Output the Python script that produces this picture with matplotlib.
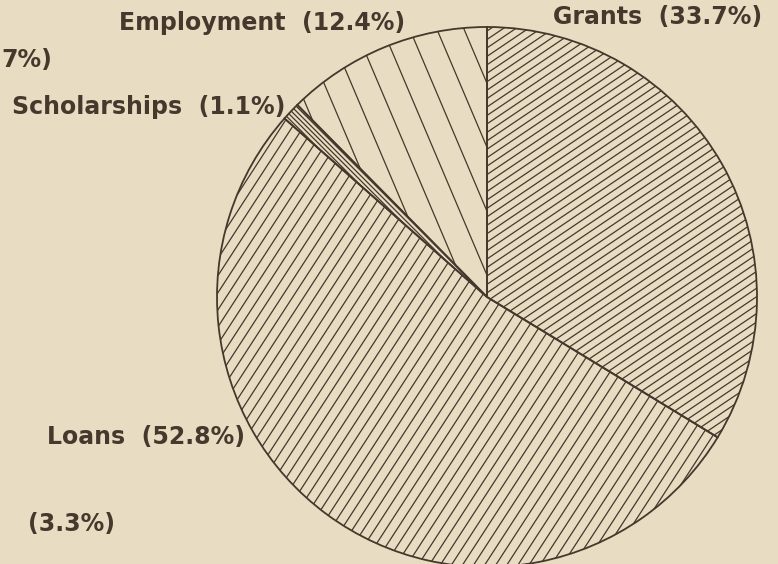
import numpy as np
import matplotlib.pyplot as plt
from matplotlib.collections import LineCollection

# slices, clockwise from 12 o'clock
labels = ["Grants", "Loans", "Scholarships", "Employment"]
shares = [33.7, 52.8, 1.1, 12.4]

# hatch direction (deg) and gap (px) per slice
hatch_angle = [34, 57, 135, 113]
hatch_gap = [7.0, 9.3, 3.5, 25.0]

bg = "#e8dcc2"
ink = "#45382c"

fig = plt.figure(figsize=(7.78, 5.64), dpi=100, facecolor=bg)
ax = fig.add_axes([0, 0, 1, 1])
ax.set_facecolor(bg)

cx, cy, r = 487, 267, 270
wedges, _ = ax.pie(shares, startangle=90, counterclock=False,
                   center=(cx, cy), radius=r, frame=True,
                   wedgeprops=dict(facecolor="none", edgecolor=ink, linewidth=1.3))

for w, ang, gap in zip(wedges, hatch_angle, hatch_gap):
    a = np.radians(ang)
    d = np.array([np.cos(a), np.sin(a)])
    n = np.array([-np.sin(a), np.cos(a)])
    segs = []
    for o in np.arange(-r * 1.05, r * 1.05, gap):
        p = np.array([cx, cy]) + n * o
        segs.append([p - d * r * 1.1, p + d * r * 1.1])
    lc = LineCollection(segs, colors=ink, linewidths=0.9)
    ax.add_collection(lc)
    lc.set_clip_path(w)

ax.set_xlim(0, 778)
ax.set_ylim(0, 564)
ax.set_aspect("equal")
ax.axis("off")

H = 564
font = dict(family="DejaVu Sans", fontsize=17, fontweight="bold", color=ink)
ax.text(405, H - 23, "Employment  (12.4%)", ha="right", va="center", **font)
ax.text(762, H - 17, "Grants  (33.7%)", ha="right", va="center", **font)
ax.text(285, H - 107, "Scholarships  (1.1%)", ha="right", va="center", **font)
ax.text(245, H - 437, "Loans  (52.8%)", ha="right", va="center", **font)
# visible ends of the neighbouring chart's labels
ax.text(1, H - 60, "7%)", ha="left", va="center", **font)
ax.text(115, H - 524, "(3.3%)", ha="right", va="center", **font)

fig.savefig("out.png", dpi=100, facecolor=bg)
